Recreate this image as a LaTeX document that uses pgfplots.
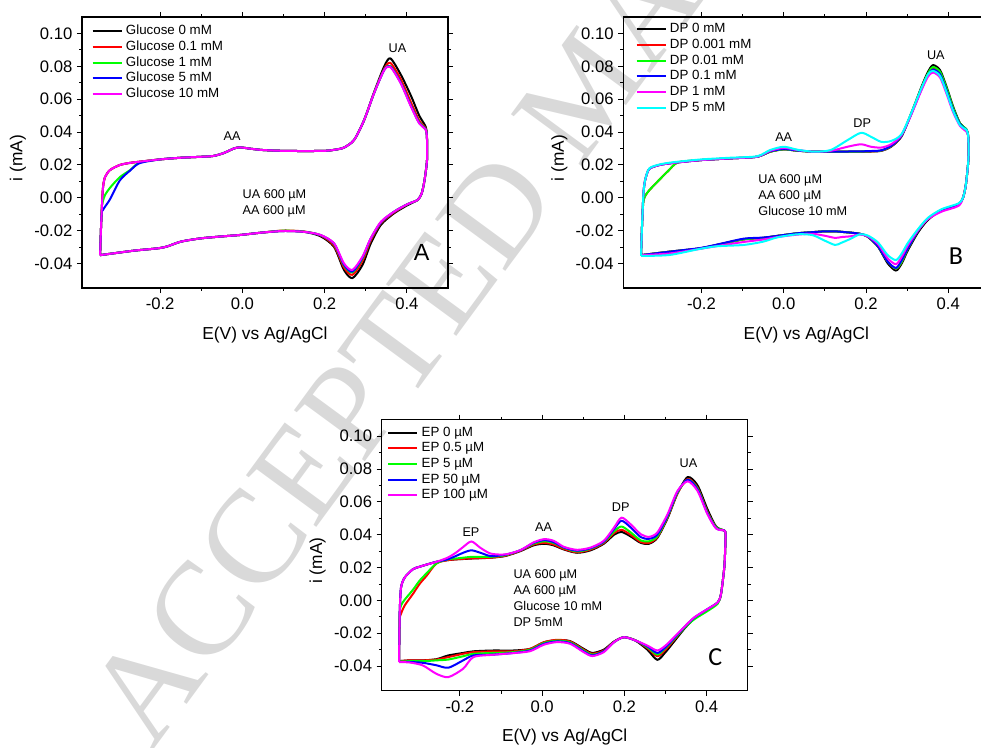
\documentclass[border=0pt]{standalone}
\usepackage{fontspec}
\setmainfont{Liberation Sans}
\newfontfamily\wmfont{Liberation Serif}
\newfontfamily\panelfont{Carlito}
\usepackage{pgfplots}
\usepackage{pgfplotstable}
\pgfplotsset{compat=1.18}

\definecolor{cred}{RGB}{255,0,0}
\definecolor{cgreen}{RGB}{0,255,0}
\definecolor{cblue}{RGB}{0,0,255}
\definecolor{cmag}{RGB}{255,0,255}
\definecolor{ccyan}{RGB}{0,255,255}

% panel A: glucose series (x k r g b m)
\pgfplotstableread{
x k r g b m
-0.346 -0.0350 -0.0350 -0.0350 -0.0350 -0.0350
-0.344 -0.0200 -0.0200 -0.0200 -0.0200 -0.0200
-0.342 -0.0075 -0.0075 -0.0060 -0.0090 -0.0075
-0.339 0.0060 0.0060 -0.0020 -0.0075 0.0060
-0.334 0.0125 0.0125 0.0016 -0.0055 0.0125
-0.322 0.0168 0.0168 0.0060 -0.0010 0.0168
-0.298 0.0199 0.0199 0.0125 0.0105 0.0199
-0.273 0.0212 0.0212 0.0168 0.0165 0.0212
-0.250 0.0219 0.0219 0.0214 0.0210 0.0219
-0.200 0.0233 0.0233 0.0233 0.0233 0.0233
-0.150 0.0243 0.0243 0.0243 0.0243 0.0243
-0.100 0.0249 0.0249 0.0249 0.0249 0.0249
-0.070 0.0254 0.0254 0.0254 0.0254 0.0254
-0.045 0.0272 0.0272 0.0272 0.0272 0.0272
-0.020 0.0300 0.0300 0.0300 0.0300 0.0300
-0.005 0.0306 0.0306 0.0306 0.0306 0.0306
0.020 0.0298 0.0298 0.0298 0.0298 0.0298
0.050 0.0290 0.0290 0.0290 0.0290 0.0290
0.100 0.0285 0.0285 0.0285 0.0285 0.0285
0.150 0.0284 0.0284 0.0284 0.0284 0.0284
0.200 0.0285 0.0285 0.0285 0.0285 0.0285
0.225 0.0292 0.0292 0.0292 0.0292 0.0292
0.247 0.0305 0.0305 0.0305 0.0305 0.0305
0.2715 0.0351 0.0351 0.0351 0.0351 0.0351
0.296 0.0472 0.0472 0.0472 0.0472 0.0472
0.320 0.0640 0.0637 0.0635 0.0635 0.0635
0.345 0.0800 0.0785 0.0780 0.0778 0.0777
0.360 0.0848 0.0820 0.0800 0.0798 0.0795
0.385 0.0750 0.0722 0.0702 0.0700 0.0696
0.410 0.0620 0.0580 0.0560 0.0558 0.0554
0.430 0.0500 0.0470 0.0458 0.0455 0.0452
0.446 0.0430 0.0420 0.0415 0.0414 0.0412
0.449 0.0360 0.0355 0.0350 0.0350 0.0350
0.449 0.0230 0.0230 0.0230 0.0230 0.0230
0.443 0.0107 0.0107 0.0107 0.0107 0.0107
0.436 0.0026 0.0026 0.0026 0.0026 0.0026
0.426 -0.0014 -0.0014 -0.0014 -0.0014 -0.0014
0.402 -0.0045 -0.0040 -0.0039 -0.0039 -0.0039
0.369 -0.0095 -0.0090 -0.0085 -0.0085 -0.0085
0.337 -0.0165 -0.0155 -0.0150 -0.0150 -0.0146
0.312 -0.0280 -0.0262 -0.0252 -0.0250 -0.0248
0.292 -0.0410 -0.0385 -0.0370 -0.0365 -0.0359
0.2675 -0.0490 -0.0470 -0.0455 -0.0450 -0.0440
0.247 -0.0440 -0.0425 -0.0412 -0.0408 -0.0400
0.223 -0.0300 -0.0292 -0.0282 -0.0280 -0.0278
0.190 -0.0235 -0.0230 -0.0228 -0.0228 -0.0227
0.150 -0.0208 -0.0206 -0.0207 -0.0208 -0.0208
0.100 -0.0203 -0.0200 -0.0201 -0.0203 -0.0203
0.050 -0.0212 -0.0212 -0.0212 -0.0212 -0.0212
-0.005 -0.0227 -0.0227 -0.0227 -0.0227 -0.0227
-0.050 -0.0236 -0.0236 -0.0236 -0.0236 -0.0236
-0.102 -0.0248 -0.0248 -0.0248 -0.0248 -0.0248
-0.150 -0.0268 -0.0268 -0.0268 -0.0268 -0.0268
-0.184 -0.0298 -0.0298 -0.0298 -0.0298 -0.0298
-0.208 -0.0309 -0.0309 -0.0309 -0.0309 -0.0309
-0.265 -0.0323 -0.0323 -0.0323 -0.0323 -0.0323
-0.346 -0.0350 -0.0350 -0.0350 -0.0350 -0.0350
}\tabA

% panel B: DP series (x k r g b m c)
\pgfplotstableread{
x k r g b m c
-0.347 -0.0350 -0.0350 -0.0350 -0.0350 -0.0350 -0.0355
-0.345 -0.0200 -0.0200 -0.0200 -0.0200 -0.0200 -0.0200
-0.343 -0.0080 -0.0080 -0.0080 -0.0080 -0.0080 -0.0080
-0.341 0.0030 -0.0020 -0.0020 0.0030 0.0030 0.0030
-0.337 0.0107 0.0010 0.0010 0.0107 0.0107 0.0107
-0.327 0.0175 0.0045 0.0045 0.0175 0.0175 0.0178
-0.302 0.0199 0.0110 0.0110 0.0199 0.0199 0.0202
-0.280 0.0208 0.0165 0.0165 0.0208 0.0208 0.0212
-0.257 0.0215 0.0215 0.0215 0.0215 0.0215 0.0219
-0.200 0.0229 0.0229 0.0229 0.0229 0.0229 0.0233
-0.131 0.0239 0.0239 0.0239 0.0239 0.0239 0.0243
-0.065 0.0249 0.0249 0.0249 0.0249 0.0249 0.0252
-0.033 0.0280 0.0280 0.0280 0.0282 0.0285 0.0290
0.000 0.0294 0.0294 0.0294 0.0296 0.0303 0.0310
0.033 0.0286 0.0286 0.0286 0.0287 0.0290 0.0292
0.073 0.0280 0.0280 0.0280 0.0280 0.0280 0.0280
0.114 0.0280 0.0280 0.0280 0.0280 0.0285 0.0290
0.155 0.0280 0.0280 0.0280 0.0281 0.0310 0.0350
0.188 0.0280 0.0281 0.0281 0.0282 0.0325 0.0395
0.212 0.0281 0.0282 0.0283 0.0284 0.0310 0.0371
0.237 0.0285 0.0286 0.0287 0.0288 0.0305 0.0340
0.261 0.0310 0.0312 0.0314 0.0315 0.0325 0.0345
0.286 0.0371 0.0373 0.0375 0.0375 0.0380 0.0385
0.310 0.0513 0.0510 0.0512 0.0508 0.0505 0.0515
0.335 0.0675 0.0665 0.0668 0.0660 0.0655 0.0668
0.351 0.0767 0.0755 0.0758 0.0748 0.0738 0.0752
0.363 0.0807 0.0790 0.0795 0.0780 0.0762 0.0772
0.380 0.0777 0.0762 0.0767 0.0752 0.0732 0.0742
0.396 0.0675 0.0662 0.0667 0.0652 0.0632 0.0642
0.412 0.0554 0.0542 0.0547 0.0535 0.0520 0.0528
0.429 0.0452 0.0446 0.0450 0.0445 0.0435 0.0440
0.445 0.0412 0.0410 0.0415 0.0410 0.0400 0.0410
0.449 0.0360 0.0360 0.0360 0.0360 0.0360 0.0360
0.449 0.0230 0.0230 0.0230 0.0230 0.0230 0.0230
0.443 0.0080 0.0080 0.0080 0.0080 0.0080 0.0080
0.436 0.0000 0.0000 0.0000 0.0000 0.0000 0.0000
0.425 -0.0040 -0.0040 -0.0040 -0.0040 -0.0050 -0.0035
0.384 -0.0075 -0.0075 -0.0075 -0.0075 -0.0085 -0.0070
0.351 -0.0135 -0.0128 -0.0128 -0.0128 -0.0130 -0.0122
0.327 -0.0210 -0.0200 -0.0200 -0.0200 -0.0197 -0.0190
0.302 -0.0320 -0.0310 -0.0310 -0.0308 -0.0290 -0.0275
0.287 -0.0400 -0.0390 -0.0390 -0.0380 -0.0360 -0.0340
0.273 -0.0444 -0.0432 -0.0432 -0.0428 -0.0405 -0.0380
0.253 -0.0400 -0.0390 -0.0390 -0.0390 -0.0370 -0.0350
0.229 -0.0298 -0.0295 -0.0295 -0.0295 -0.0282 -0.0272
0.204 -0.0238 -0.0236 -0.0236 -0.0236 -0.0235 -0.0230
0.185 -0.0220 -0.0220 -0.0220 -0.0220 -0.0225 -0.0223
0.163 -0.0213 -0.0213 -0.0213 -0.0213 -0.0235 -0.0250
0.140 -0.0208 -0.0208 -0.0208 -0.0208 -0.0240 -0.0275
0.125 -0.0205 -0.0205 -0.0205 -0.0205 -0.0245 -0.0288
0.100 -0.0205 -0.0205 -0.0205 -0.0205 -0.0232 -0.0262
0.070 -0.0210 -0.0210 -0.0210 -0.0210 -0.0220 -0.0228
0.033 -0.0217 -0.0217 -0.0217 -0.0217 -0.0225 -0.0223
-0.016 -0.0233 -0.0233 -0.0233 -0.0233 -0.0240 -0.0242
-0.050 -0.0245 -0.0245 -0.0245 -0.0243 -0.0255 -0.0268
-0.098 -0.0254 -0.0254 -0.0254 -0.0250 -0.0270 -0.0288
-0.163 -0.0288 -0.0288 -0.0288 -0.0286 -0.0295 -0.0296
-0.204 -0.0309 -0.0309 -0.0309 -0.0307 -0.0312 -0.0312
-0.278 -0.0329 -0.0329 -0.0329 -0.0329 -0.0340 -0.0349
-0.347 -0.0350 -0.0350 -0.0350 -0.0350 -0.0350 -0.0355
}\tabB

% panel C: EP series (x k r g b m)
\pgfplotstableread{
x k r g b m
-0.348 -0.0370 -0.0370 -0.0372 -0.0374 -0.0376
-0.347 -0.0200 -0.0200 -0.0200 -0.0200 -0.0200
-0.346 -0.0050 -0.0100 -0.0070 -0.0050 -0.0050
-0.343 0.0080 -0.0080 -0.0030 0.0080 0.0080
-0.334 0.0140 -0.0030 0.0005 0.0140 0.0140
-0.314 0.0190 0.0040 0.0065 0.0190 0.0190
-0.298 0.0205 0.0100 0.0120 0.0205 0.0205
-0.281 0.0218 0.0150 0.0165 0.0218 0.0218
-0.257 0.0235 0.0225 0.0225 0.0235 0.0235
-0.230 0.0245 0.0245 0.0250 0.0250 0.0260
-0.210 0.0250 0.0250 0.0255 0.0270 0.0290
-0.192 0.0252 0.0253 0.0260 0.0290 0.0325
-0.172 0.0255 0.0256 0.0265 0.0305 0.0359
-0.150 0.0257 0.0258 0.0265 0.0290 0.0320
-0.125 0.0260 0.0260 0.0265 0.0270 0.0285
-0.090 0.0270 0.0272 0.0275 0.0278 0.0280
-0.053 0.0300 0.0302 0.0305 0.0305 0.0306
-0.021 0.0335 0.0340 0.0345 0.0350 0.0353
0.005 0.0345 0.0350 0.0360 0.0367 0.0373
0.028 0.0335 0.0340 0.0350 0.0355 0.0363
0.053 0.0310 0.0313 0.0320 0.0322 0.0326
0.085 0.0290 0.0293 0.0298 0.0303 0.0308
0.118 0.0305 0.0310 0.0315 0.0318 0.0322
0.150 0.0345 0.0350 0.0355 0.0358 0.0363
0.175 0.0400 0.0410 0.0420 0.0435 0.0444
0.193 0.0417 0.0430 0.0450 0.0485 0.0504
0.215 0.0390 0.0400 0.0415 0.0445 0.0464
0.240 0.0350 0.0355 0.0365 0.0385 0.0403
0.260 0.0345 0.0350 0.0360 0.0375 0.0387
0.280 0.0380 0.0385 0.0390 0.0400 0.0413
0.305 0.0500 0.0505 0.0510 0.0515 0.0525
0.329 0.0650 0.0650 0.0655 0.0660 0.0666
0.354 0.0751 0.0740 0.0735 0.0735 0.0725
0.378 0.0700 0.0685 0.0680 0.0675 0.0666
0.402 0.0555 0.0540 0.0535 0.0530 0.0525
0.423 0.0450 0.0445 0.0445 0.0440 0.0438
0.443 0.0425 0.0425 0.0425 0.0425 0.0425
0.446 0.0403 0.0403 0.0403 0.0403 0.0403
0.445 0.0300 0.0300 0.0300 0.0300 0.0300
0.443 0.0201 0.0201 0.0201 0.0201 0.0201
0.435 0.0039 0.0039 0.0039 0.0039 0.0039
0.427 -0.0012 -0.0015 -0.0020 -0.0012 -0.0012
0.402 -0.0055 -0.0060 -0.0065 -0.0053 -0.0053
0.370 -0.0110 -0.0108 -0.0115 -0.0105 -0.0103
0.345 -0.0175 -0.0168 -0.0170 -0.0165 -0.0163
0.321 -0.0250 -0.0240 -0.0235 -0.0230 -0.0224
0.300 -0.0315 -0.0300 -0.0290 -0.0285 -0.0275
0.280 -0.0362 -0.0340 -0.0330 -0.0320 -0.0305
0.256 -0.0300 -0.0290 -0.0285 -0.0280 -0.0275
0.227 -0.0245 -0.0243 -0.0243 -0.0244 -0.0244
0.199 -0.0224 -0.0224 -0.0224 -0.0224 -0.0224
0.175 -0.0250 -0.0252 -0.0253 -0.0254 -0.0254
0.150 -0.0300 -0.0305 -0.0310 -0.0310 -0.0315
0.122 -0.0320 -0.0325 -0.0330 -0.0335 -0.0339
0.101 -0.0295 -0.0300 -0.0305 -0.0310 -0.0315
0.068 -0.0248 -0.0250 -0.0255 -0.0260 -0.0264
0.036 -0.0242 -0.0240 -0.0245 -0.0250 -0.0254
0.004 -0.0255 -0.0255 -0.0260 -0.0265 -0.0270
-0.029 -0.0295 -0.0295 -0.0300 -0.0305 -0.0309
-0.070 -0.0305 -0.0310 -0.0315 -0.0320 -0.0321
-0.119 -0.0305 -0.0310 -0.0320 -0.0330 -0.0331
-0.167 -0.0310 -0.0315 -0.0325 -0.0335 -0.0345
-0.192 -0.0320 -0.0325 -0.0340 -0.0365 -0.0416
-0.228 -0.0335 -0.0345 -0.0360 -0.0410 -0.0467
-0.257 -0.0358 -0.0360 -0.0365 -0.0395 -0.0447
-0.290 -0.0365 -0.0365 -0.0370 -0.0380 -0.0396
-0.322 -0.0365 -0.0365 -0.0370 -0.0375 -0.0378
-0.348 -0.0370 -0.0370 -0.0372 -0.0374 -0.0376
}\tabC

\pgfplotsset{
  cv/.style={
    scale only axis, width=274.5pt, height=203.25pt,
    xmin=-0.39, xmax=0.5, ymin=-0.055, ymax=0.11,
    xtick={-0.2,0,0.2,0.4},
    ytick={-0.04,-0.02,0,0.02,0.04,0.06,0.08,0.10},
    minor x tick num=1, minor y tick num=1,
    scaled x ticks=false, scaled y ticks=false,
    tick align=outside, major tick length=3.75pt, minor tick length=2.2pt,
    every tick/.style={black, line width=0.6pt},
    axis line style={line width=0.8pt},
    /pgf/number format/assume math mode=true,
    xticklabel style={/pgf/number format/.cd, fixed, fixed zerofill, precision=1},
    yticklabel style={/pgf/number format/.cd, fixed, fixed zerofill, precision=2},
    tick label style={font=\fontsize{12.5}{12.5}\selectfont},
    xlabel={E(V) vs Ag/AgCl}, ylabel={i (mA)},
    every axis x label/.style={at={(rel axis cs:0.5,0)}, yshift=-35pt, anchor=center,
      font=\fontsize{13}{13}\selectfont},
    every axis y label/.style={at={(rel axis cs:0,0.48)}, xshift=-48pt, rotate=90, anchor=center,
      font=\fontsize{13}{13}\selectfont},
    every axis plot/.append style={no markers, line width=1.5pt, line join=round, smooth, tension=0.45},
    legend image code/.code={\draw[#1, line width=1.5pt] (0pt,0pt) -- (21.75pt,0pt);},
    legend cell align=left,
    legend style={at={(rel axis cs:0,1)}, anchor=north west, draw=none, fill=none,
      inner sep=0pt, row sep=0pt, font=\fontsize{10}{10}\selectfont,
      nodes={inner ysep=1pt, inner xsep=2.5pt, text height=7.5pt, text depth=2.3pt}},
  },
}
\tikzset{
  ann/.style={font=\fontsize{9.5}{12}\selectfont, align=left, inner sep=0pt},
  pk/.style={font=\fontsize{9.5}{9.5}\selectfont},
}

\begin{document}
\begin{tikzpicture}
\useasboundingbox (0,0) rectangle (735.75pt,560.25pt);
\node[rotate=53.7, anchor=base west, text=black!15, inner sep=0pt,
  font=\wmfont\fontsize{100}{100}\selectfont] at (114pt,-3.75pt) {ACCEPTED MANUSCRIPT};

% A
\begin{axis}[cv, at={(61.5pt,344.25pt)}, anchor=south west,
  legend style={xshift=7pt, yshift=-4.5pt}]
  \addplot[black] table[x=x, y=k] {\tabA};
  \addplot[cred] table[x=x, y=r] {\tabA};
  \addplot[cgreen] table[x=x, y=g] {\tabA};
  \addplot[cblue] table[x=x, y=b] {\tabA};
  \addplot[cmag] table[x=x, y=m] {\tabA};
  \legend{Glucose 0 mM, Glucose 0.1 mM, Glucose 1 mM, Glucose 5 mM, Glucose 10 mM}
  \node[pk] at (axis cs:-0.025,0.0377) {AA};
  \node[pk] at (axis cs:0.377,0.0912) {UA};
  \node[ann, anchor=north west] at (axis cs:0.0,0.0050) {UA 600 µM\\AA 600 µM};
  \node[font=\fontsize{17.5}{17.5}\selectfont] at (axis cs:0.436,-0.0333) {A};
\end{axis}

% B
\begin{axis}[cv, at={(467.5pt,344.25pt)}, anchor=south west,
  legend style={xshift=9pt, yshift=-3pt}]
  \addplot[black] table[x=x, y=k] {\tabB};
  \addplot[cred] table[x=x, y=r] {\tabB};
  \addplot[cgreen] table[x=x, y=g] {\tabB};
  \addplot[cblue] table[x=x, y=b] {\tabB};
  \addplot[cmag] table[x=x, y=m] {\tabB};
  \addplot[ccyan] table[x=x, y=c] {\tabB};
  \legend{DP 0 mM, DP 0.001 mM, DP 0.01 mM, DP 0.1 mM, DP 1 mM, DP 5 mM}
  \node[pk] at (axis cs:0.0,0.0371) {AA};
  \node[pk] at (axis cs:0.191,0.0452) {DP};
  \node[pk] at (axis cs:0.370,0.0868) {UA};
  \node[ann, anchor=north west] at (axis cs:-0.062,0.0144) {UA 600 µM\\AA 600 µM\\Glucose 10 mM};
  \node[font=\panelfont\fontsize{19.5}{19.5}\selectfont] at (axis cs:0.419,-0.0355) {B};
\end{axis}

% C
\begin{axis}[cv, at={(286.3pt,42.2pt)}, anchor=south west,
  legend style={xshift=4pt, yshift=-3.5pt}]
  \addplot[black] table[x=x, y=k] {\tabC};
  \addplot[cred] table[x=x, y=r] {\tabC};
  \addplot[cgreen] table[x=x, y=g] {\tabC};
  \addplot[cblue] table[x=x, y=b] {\tabC};
  \addplot[cmag] table[x=x, y=m] {\tabC};
  \legend{EP 0 µM, EP 0.5 µM, EP 5 µM, EP 50 µM, EP 100 µM}
  \node[pk] at (axis cs:-0.173,0.0413) {EP};
  \node[pk] at (axis cs:0.0035,0.0444) {AA};
  \node[pk] at (axis cs:0.191,0.0565) {DP};
  \node[pk] at (axis cs:0.356,0.0838) {UA};
  \node[ann, anchor=north west] at (axis cs:-0.070,0.0187) {UA 600 µM\\AA 600 µM\\Glucose 10 mM\\DP 5mM};
  \node[font=\panelfont\fontsize{19.5}{19.5}\selectfont] at (axis cs:0.421,-0.0345) {C};
\end{axis}
\end{tikzpicture}
\end{document}
